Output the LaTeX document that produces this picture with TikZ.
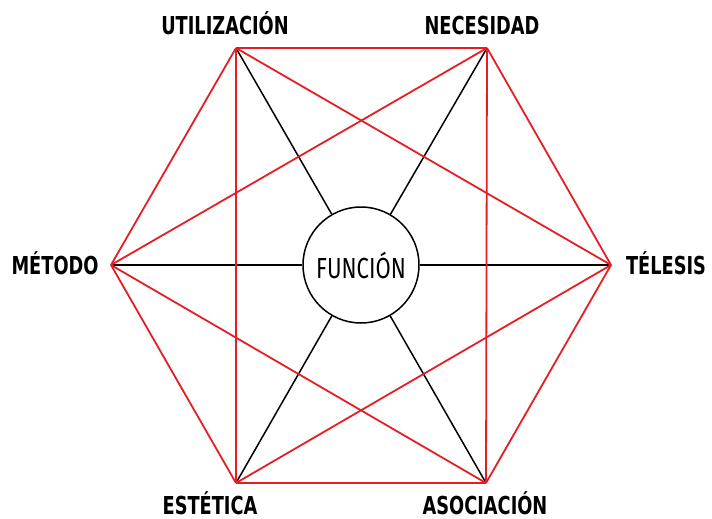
\documentclass[tikz,border=0pt]{standalone}
\usepackage{fontspec}
\setmainfont{DejaVu Sans Condensed}[FakeStretch=0.8,BoldFont={DejaVu Sans Condensed Bold}]
\newfontfamily\thinfont{Fira Sans}[FakeStretch=0.76]
\usetikzlibrary{positioning}
\definecolor{hexred}{RGB}{228,30,36}

\begin{document}
\begin{tikzpicture}[
    x=1pt, y=-1pt,
    tag/.style={anchor=base, inner sep=0pt, font=\bfseries\fontsize{24.7}{26}\selectfont},
    edge/.style={draw=hexred, line width=1.8pt},
    spoke/.style={draw=black, line width=1.5pt},
    core/.style={circle, draw, line width=1.5pt, fill=white, minimum size=116pt, inner sep=0pt, font=\thinfont\fontsize{29}{30}\selectfont}
]
\useasboundingbox (0,0) rectangle (712,519);

% vertices
\coordinate (util) at (236,48);
\coordinate (nec) at (487,48);
\coordinate (tel) at (611,265);
\coordinate (asoc) at (486,483);
\coordinate (est) at (236,483);
\coordinate (met) at (111,265);

% labels
\node[tag] (util_lbl) at (225,35) {UTILIZACIÓN};
\node[tag] (nec_lbl) at (482,35) {NECESIDAD};
\node[tag] (tel_lbl) at (666,274) {TÉLESIS};
\node[tag] (asoc_lbl) at (485,514) {ASOCIACIÓN};
\node[tag] (est_lbl) at (210,514) {ESTÉTICA};
\node[tag] (met_lbl) at (55,274) {MÉTODO};

% centre
\node[core] (funcion) at (361,265) {FUNCIÓN};

% spokes
\draw[spoke] (util) -- (funcion);
\draw[spoke] (nec) -- (funcion);
\draw[spoke] (tel) -- (funcion);
\draw[spoke] (asoc) -- (funcion);
\draw[spoke] (est) -- (funcion);
\draw[spoke] (met) -- (funcion);

% hexagon
\draw[edge] (util) -- (nec);
\draw[edge] (nec) -- (tel);
\draw[edge] (tel) -- (asoc);
\draw[edge] (asoc) -- (est);
\draw[edge] (est) -- (met);
\draw[edge] (met) -- (util);

% short diagonals
\draw[edge] (util) -- (tel);
\draw[edge] (util) -- (est);
\draw[edge] (nec) -- (met);
\draw[edge] (nec) -- (asoc);
\draw[edge] (met) -- (asoc);
\draw[edge] (tel) -- (est);

\end{tikzpicture}
\end{document}
